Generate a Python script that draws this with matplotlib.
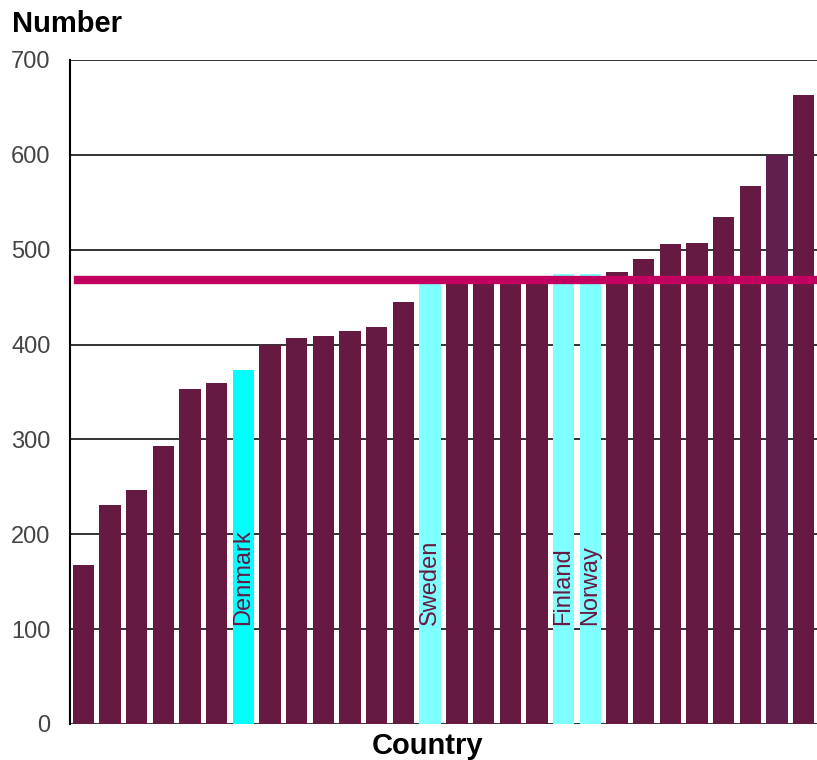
import matplotlib.pyplot as plt

# Werte je Land, aufsteigend sortiert
values = [168, 231, 247, 293, 353, 360, 373, 400, 407, 409, 414, 418, 445,
          465, 467, 467, 467, 467, 474, 474, 477, 490, 506, 507, 535, 567, 600, 663]
labels = [''] * 6 + ['Denmark'] + [''] * 6 + ['Sweden'] + [''] * 4 + ['Finland', 'Norway'] + [''] * 8
average = 468
yticks = [0, 100, 200, 300, 400, 500, 600, 700]

bar_color = '#661a42'
colors = []
for i, lab in enumerate(labels):
    if lab == 'Denmark':
        colors.append('#00ffff')
    elif lab:
        colors.append('#80ffff')
    elif i == 26:
        colors.append('#611f4f')
    else:
        colors.append(bar_color)

plt.rcParams['font.family'] = ['Liberation Sans', 'DejaVu Sans']

fig = plt.figure(figsize=(8.17, 7.60), dpi=100)
ax = fig.add_axes([70 / 817, 36 / 760, 747 / 817, 664 / 760])

x = range(len(values))
ax.bar(x, values, width=0.8, color=colors, zorder=2)

# Beschriftung der nordischen Länder im Balken
for i, lab in enumerate(labels):
    if lab:
        ax.text(i, 104, lab, rotation=90, ha='center', va='bottom',
                fontsize=17, color='#661a42', zorder=3)

# Durchschnittslinie
ax.axhline(average, xmin=0.011, color='#c2005f', linewidth=6, zorder=4)

ax.set_xlim(-0.5, len(values) - 0.5)
ax.set_ylim(0, 700)
ax.set_yticks(yticks)
ax.set_xticks([])
ax.grid(axis='y', color='#222222', linewidth=1.3, zorder=0)
ax.set_axisbelow(True)
ax.tick_params(axis='y', length=0, labelsize=17, labelcolor='#444444', pad=14)

for side in ['right', 'bottom', 'top']:
    ax.spines[side].set_visible(False)
ax.spines['left'].set_linewidth(1.5)

fig.text(12 / 817, 1 - 24 / 760, 'Number', fontsize=21, fontweight='bold', va='center', ha='left')
fig.text(428 / 817, 1 - 746 / 760, 'Country', fontsize=21, fontweight='bold', va='center', ha='center')

plt.savefig('out.png', dpi=100)
